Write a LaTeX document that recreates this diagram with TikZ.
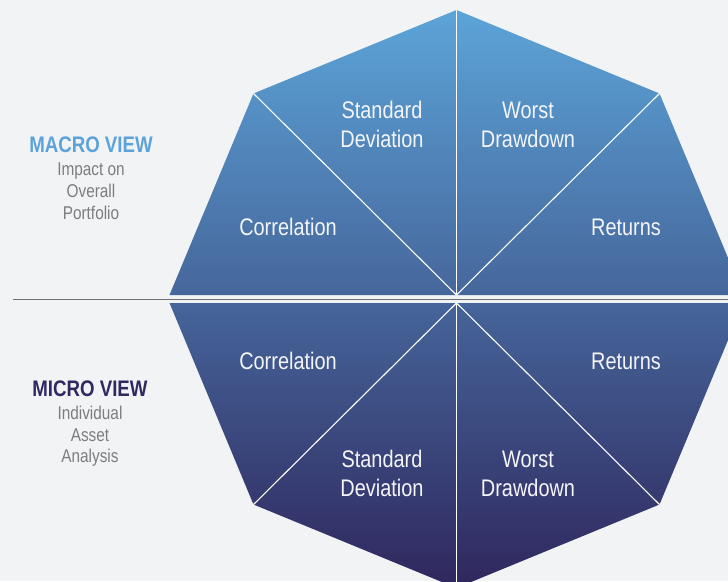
\documentclass[tikz,border=0pt]{standalone}
\usepackage{fontspec}
\setmainfont[FakeStretch=0.83]{Liberation Sans}
\definecolor{bg}{RGB}{242,243,245}
\definecolor{ctop}{RGB}{92,164,216}
\definecolor{cmid}{RGB}{105,112,160}
\definecolor{cbot}{RGB}{47,39,93}
\definecolor{macroblue}{RGB}{91,163,217}
\definecolor{micropurple}{RGB}{47,41,98}
\definecolor{subgray}{RGB}{125,125,128}
\definecolor{rulegray}{RGB}{112,112,114}
\definecolor{segtext}{RGB}{244,245,250}
\tikzset{
  seg/.style={font=\fontsize{24}{29}\selectfont, text=segtext, anchor=base, inner sep=0pt},
  sub/.style={font=\fontsize{18.5}{22}\selectfont, text=subgray, anchor=base, inner sep=0pt},
  head/.style={font=\bfseries\fontsize{22.5}{26}\selectfont, anchor=base, inner sep=0pt},
  divider/.style={draw=white, line width=1.1pt},
}
\begin{document}
\begin{tikzpicture}[x=1pt,y=-1pt]
\fill[bg] (0,0) rectangle (728,581);
\useasboundingbox (0,0) rectangle (728,581);
% top half vertices
\coordinate (ct) at (456.5,295);
\coordinate (tl) at (169.5,295);
\coordinate (tul) at (253.5,93.5);
\coordinate (tt) at (456.5,10);
\coordinate (tur) at (659.5,93.5);
\coordinate (tr) at (743.5,295);
% bottom half vertices
\coordinate (cb) at (456.5,303);
\coordinate (bl) at (169.5,303);
\coordinate (bll) at (253.5,504.5);
\coordinate (bb) at (456.5,588);
\coordinate (blr) at (659.5,504.5);
\coordinate (br) at (743.5,303);
\begin{scope}
  \clip (tl) -- (tul) -- (tt) -- (tur) -- (tr) -- cycle
        (bl) -- (bll) -- (bb) -- (blr) -- (br) -- cycle;
  \shade[top color=ctop, middle color=cmid, bottom color=cbot] (150,10) rectangle (750,588);
\end{scope}
\draw[divider] (ct) -- (tul);
\draw[divider] (ct) -- (tt);
\draw[divider] (ct) -- (tur);
\draw[divider] (cb) -- (bll);
\draw[divider] (cb) -- (bb);
\draw[divider] (cb) -- (blr);
% horizontal rule
\coordinate (rs) at (13,299.3);
\coordinate (re) at (728,299.3);
\draw[rulegray, line width=1.3pt] (rs) -- (re);
% segment labels, upper half
\node[seg] (sd1a) at (382,118) {Standard};
\node[seg] (sd1b) at (382,147) {Deviation};
\node[seg] (wd1a) at (528,118) {Worst};
\node[seg] (wd1b) at (528,147) {Drawdown};
\node[seg] (co1) at (288,235) {Correlation};
\node[seg] (re1) at (626,235) {Returns};
% segment labels, lower half
\node[seg] (co2) at (288,369) {Correlation};
\node[seg] (re2) at (626,369) {Returns};
\node[seg] (sd2a) at (382,467) {Standard};
\node[seg] (sd2b) at (382,496) {Deviation};
\node[seg] (wd2a) at (528,467) {Worst};
\node[seg] (wd2b) at (528,496) {Drawdown};
% side labels
\node[head, text=macroblue] (macro) at (91,152) {MACRO VIEW};
\node[sub] (ma1) at (91,175) {Impact on};
\node[sub] (ma2) at (91,197) {Overall};
\node[sub] (ma3) at (91,219) {Portfolio};
\node[head, text=micropurple] (micro) at (90,396) {MICRO VIEW};
\node[sub] (mi1) at (90,419) {Individual};
\node[sub] (mi2) at (90,441) {Asset};
\node[sub] (mi3) at (90,462) {Analysis};
\end{tikzpicture}
\end{document}
